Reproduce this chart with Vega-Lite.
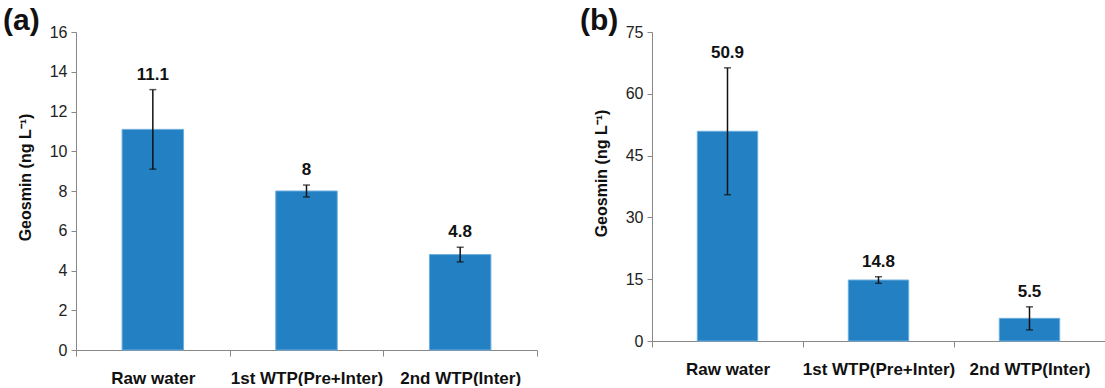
{
  "$schema": "https://vega.github.io/schema/vega-lite/v6.json",
  "background": "white",
  "padding": {"left": 3, "top": 6, "right": 0, "bottom": 0},
  "bounds": "flush",
  "spacing": 115,
  "config": {
    "view": {"stroke": null},
    "font": "Liberation Sans",
    "axis": {"domainColor": "#888888", "tickColor": "#888888", "grid": false, "labelFont": "Liberation Sans", "titleFont": "Liberation Sans", "labelColor": "#222222", "titleColor": "#111111", "labelOverlap": false}
  },
  "datasets": {
    "a": [
      {"site": "Raw water", "geosmin": 11.1, "lo": 9.1, "hi": 13.1},
      {"site": "1st WTP(Pre+Inter)", "geosmin": 8, "lo": 7.7, "hi": 8.3},
      {"site": "2nd WTP(Inter)", "geosmin": 4.8, "lo": 4.43, "hi": 5.17}
    ],
    "b": [
      {"site": "Raw water", "geosmin": 50.9, "lo": 35.5, "hi": 66.3},
      {"site": "1st WTP(Pre+Inter)", "geosmin": 14.8, "lo": 14.0, "hi": 15.6},
      {"site": "2nd WTP(Inter)", "geosmin": 5.5, "lo": 2.7, "hi": 8.3}
    ]
  },
  "hconcat": [
    {
      "width": 461,
      "height": 318,
      "title": {"text": "(a)", "anchor": "start", "frame": "group", "fontSize": 30, "fontWeight": "bold", "color": "#111111", "font": "Liberation Sans", "dx": -73, "offset": -12},
      "data": {"name": "a"},
      "encoding": {
        "x": {"field": "site", "type": "nominal", "sort": null, "scale": {"paddingInner": 0, "paddingOuter": 0},
          "axis": {"title": null, "labelAngle": 0, "labelFontSize": 17, "labelFontWeight": "bold", "labelColor": "#111111", "tickBand": "extent", "tickSize": 6, "labelPadding": 14, "labelLimit": 0}}
      },
      "layer": [
        {
          "mark": {"type": "bar", "width": {"band": 0.4}, "color": "#2380C2", "stroke": "#6AAEE0", "strokeWidth": 1},
          "encoding": {
            "y": {"field": "geosmin", "type": "quantitative", "title": "Geosmin (ng L⁻¹)", "scale": {"domain": [0, 16], "nice": false},
              "axis": {"values": [0, 2, 4, 6, 8, 10, 12, 14, 16], "tickCount": 9, "labelOverlap": false, "tickSize": 5, "labelPadding": 4, "labelFontSize": 16, "titleFontSize": 16, "titleFontWeight": "bold", "titlePadding": 16, "titleY": 145}}
          }
        },
        {
          "mark": {"type": "errorbar", "ticks": {"size": 7, "thickness": 1.5, "color": "#111111"}, "color": "#111111", "thickness": 1.5},
          "encoding": {"y": {"field": "lo", "type": "quantitative", "title": "Geosmin (ng L⁻¹)",
              "axis": {"values": [0, 2, 4, 6, 8, 10, 12, 14, 16], "tickCount": 9, "labelOverlap": false, "tickSize": 5, "labelPadding": 4, "labelFontSize": 16, "titleFontSize": 16, "titleFontWeight": "bold", "titlePadding": 16, "titleY": 145}}, "y2": {"field": "hi"}}
        },
        {
          "mark": {"type": "text", "dy": -15, "fontSize": 17, "fontWeight": "bold", "color": "#111111", "baseline": "middle"},
          "encoding": {"y": {"field": "hi", "type": "quantitative", "title": "Geosmin (ng L⁻¹)",
              "axis": {"values": [0, 2, 4, 6, 8, 10, 12, 14, 16], "tickCount": 9, "labelOverlap": false, "tickSize": 5, "labelPadding": 4, "labelFontSize": 16, "titleFontSize": 16, "titleFontWeight": "bold", "titlePadding": 16, "titleY": 145}}, "text": {"field": "geosmin", "type": "quantitative"}}
        }
      ]
    },
    {
      "width": 453,
      "height": 309,
      "title": {"text": "(b)", "anchor": "start", "frame": "group", "fontSize": 30, "fontWeight": "bold", "color": "#111111", "font": "Liberation Sans", "dx": -72, "offset": -12},
      "data": {"name": "b"},
      "encoding": {
        "x": {"field": "site", "type": "nominal", "sort": null, "scale": {"paddingInner": 0, "paddingOuter": 0},
          "axis": {"title": null, "labelAngle": 0, "labelFontSize": 17, "labelFontWeight": "bold", "labelColor": "#111111", "tickBand": "extent", "tickSize": 6, "labelPadding": 14, "labelLimit": 0}}
      },
      "layer": [
        {
          "mark": {"type": "bar", "width": {"band": 0.4}, "color": "#2380C2", "stroke": "#6AAEE0", "strokeWidth": 1},
          "encoding": {
            "y": {"field": "geosmin", "type": "quantitative", "title": "Geosmin (ng L⁻¹)", "scale": {"domain": [0, 75], "nice": false},
              "axis": {"values": [0, 15, 30, 45, 60, 75], "labelOverlap": false, "tickSize": 5, "labelPadding": 4, "labelFontSize": 16, "titleFontSize": 16, "titleFontWeight": "bold", "titlePadding": 16, "titleY": 141}}
          }
        },
        {
          "mark": {"type": "errorbar", "ticks": {"size": 7, "thickness": 1.5, "color": "#111111"}, "color": "#111111", "thickness": 1.5},
          "encoding": {"y": {"field": "lo", "type": "quantitative", "title": "Geosmin (ng L⁻¹)",
              "axis": {"values": [0, 15, 30, 45, 60, 75], "labelOverlap": false, "tickSize": 5, "labelPadding": 4, "labelFontSize": 16, "titleFontSize": 16, "titleFontWeight": "bold", "titlePadding": 16, "titleY": 141}}, "y2": {"field": "hi"}}
        },
        {
          "mark": {"type": "text", "dy": -15, "fontSize": 17, "fontWeight": "bold", "color": "#111111", "baseline": "middle"},
          "encoding": {"y": {"field": "hi", "type": "quantitative", "title": "Geosmin (ng L⁻¹)",
              "axis": {"values": [0, 15, 30, 45, 60, 75], "labelOverlap": false, "tickSize": 5, "labelPadding": 4, "labelFontSize": 16, "titleFontSize": 16, "titleFontWeight": "bold", "titlePadding": 16, "titleY": 141}}, "text": {"field": "geosmin", "type": "quantitative"}}
        }
      ]
    }
  ]
}
